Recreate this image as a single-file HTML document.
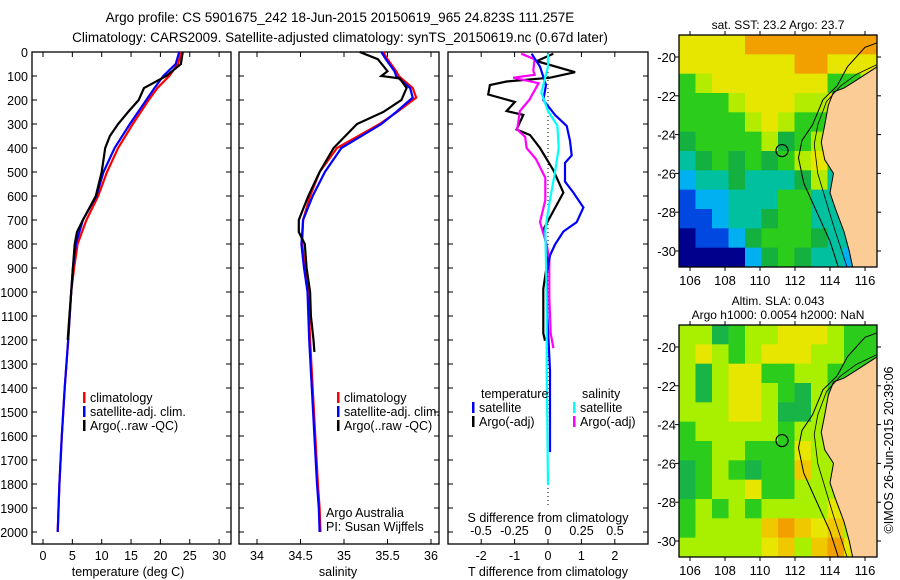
<!DOCTYPE html>
<html><head><meta charset="utf-8">
<style>
body{margin:0;background:#fff;}
svg{display:block;font-family:"Liberation Sans",sans-serif;}
text{fill:#000;}
</style></head>
<body>
<svg id="fig" width="900" height="580" viewBox="0 0 900 580">
<defs>
<clipPath id="c1"><rect x="679" y="35" width="198" height="232"/></clipPath>
<clipPath id="c2"><rect x="679" y="325" width="198" height="232"/></clipPath>
</defs>
<text x="340" y="22" font-size="13.5" text-anchor="middle">Argo profile: CS 5901675_242 18-Jun-2015 20150619_965 24.823S 111.257E</text>
<text x="340" y="42" font-size="13.5" text-anchor="middle">Climatology: CARS2009. Satellite-adjusted climatology: synTS_20150619.nc (0.67d later)</text>
<g id="p1"></g>
<g id="p2"></g>
<g id="p3"></g>
<g id="m1"></g>
<g id="m2"></g>
<text transform="translate(893,450) rotate(-90)" font-size="12.5" text-anchor="middle">©IMOS 26-Jun-2015 20:39:06</text>
</svg>
<script>
// ---- data ----
const depthTicks=[0,100,200,300,400,500,600,700,800,900,1000,1100,1200,1300,1400,1500,1600,1700,1800,1900,2000];
const tempTicks=[0,5,10,15,20,25,30];
const salTicks=[34,34.5,35,35.5,36];
const tdTicks=[-2,-1,0,1,2];
const sdTicks=[-0.5,-0.25,0,0.25,0.5];
const sdTickLabels=["-0.5","-0.25","0","0.25","0.5"];

const climDepth=[0,50,100,150,200,300,400,500,600,700,800,900,1000,1200,1400,1600,1800,2000];
const climT=[23.6,23.0,21.5,19.5,18.0,15.3,12.8,10.9,9.4,7.4,5.9,5.3,4.8,4.3,3.7,3.2,2.8,2.5];
const satT=[23.2,22.6,20.5,19.0,17.6,14.8,12.2,10.3,9.1,6.8,5.6,5.1,4.8,4.3,3.7,3.2,2.8,2.5];
const argoDepth=[0,50,100,150,200,250,300,350,400,500,600,700,750,800,900,1000,1100,1200];
const argoT=[23.8,23.5,21.0,17.2,16.3,14.5,12.8,11.4,10.6,10.0,9.0,6.8,5.8,5.4,5.1,4.8,4.5,4.2];

const salDepth=[0,30,80,100,110,150,190,250,300,400,500,600,700,800,900,1000,1200,1400,1600,1800,1900,2000];
const climS=[35.45,35.5,35.6,35.63,35.66,35.79,35.83,35.61,35.41,34.92,34.72,34.61,34.53,34.52,34.55,34.59,34.61,34.64,34.67,34.70,34.72,34.73];
const satS=[35.43,35.48,35.58,35.6,35.63,35.76,35.79,35.6,35.43,34.97,34.78,34.64,34.53,34.51,34.54,34.58,34.60,34.63,34.66,34.69,34.71,34.72];
const argoSDepth=[0,30,80,100,110,150,200,250,300,400,500,600,700,750,800,900,1000,1100,1200,1250];
const argoS=[35.18,35.39,35.5,35.43,35.64,35.72,35.66,35.45,35.15,34.88,34.72,34.59,34.48,34.48,34.55,34.57,34.61,34.62,34.65,34.66];

const dTsatDepth=[7,61,138,200,262,308,370,431,462,540,586,648,709,748,802,848,925,1095,1327,1667];
const dTsat=[-0.49,-0.24,-0.06,-0.14,0.21,0.56,0.66,0.71,0.51,0.51,0.76,1.06,0.86,0.46,0.21,0.06,-0.04,-0.02,0.06,0.06];
const dTargoDepth=[7,38,84,107,123,138,177,208,246,262,323,346,400,492,586,663,740,848,987,1172,1203];
const dTargo=[0.16,-0.34,0.81,0.06,-1.24,-1.74,-1.79,-0.99,-1.24,-0.74,-0.94,-0.54,-0.24,0.16,0.46,0.16,-0.14,0.01,-0.14,-0.14,-0.09];
const dSsatDepth=[7,61,169,246,308,400,508,632,740,1018,1327,1804];
const dSsat=[0.0,0.0,-0.05,0.0,0.07,0.08,0.05,0.01,-0.02,-0.01,-0.01,0.0];
const dSargoDepth=[7,30,77,95,107,130,200,246,323,354,400,446,524,617,709,802,864,1018,1172,1234];
const dSargo=[-0.2,-0.1,-0.11,-0.1,-0.26,-0.07,-0.14,-0.21,-0.23,-0.17,-0.16,-0.09,-0.02,-0.02,-0.06,-0.01,0.01,0.01,0.02,0.04];

const lonTicks=[106,108,110,112,114,116];
const latTicks=[-20,-22,-24,-26,-28,-30];
const sstGrid=["YYYYOOOOOOOO","YYYYYYYOOYYY","GLYYYYYYYGGL","GGGLYYYLLYGG","GGGGLYLGGLGG","gGGGGLgGLYGG","TgGgGgGLYGCB","CTTgTTTgLTTB","BCCTTTGGTTGT","BBCTTgGGTTTG","NBBCgGGGgTTG","NNNNCgGgTTCT"];
const slaGrid=["KKDGKKYYYKGG","KYKGKYYYKKGG","KDKYYGGKKGGG","KDKYYKGDKGGG","KKKYYKDDKGGG","GKKKKKGKKGGG","GGKKGGGYKKGG","DGKGDGGoKKKG","DGKKYGGKKKKG","GKGKGKKKKYKG","GKKKKoOoYoKG","KKKKKYoKoOYG"];
const coastLon=[116.7,115.5,114.8,114.2,113.9,113.7,113.5,113.7,114.2,114.0,114.3,114.8,115.1,115.3];
const coastLat=[-20.5,-21.2,-21.6,-21.8,-22.5,-23.5,-24.4,-25.3,-26.0,-27.0,-27.8,-29.0,-30.0,-30.85];
const isoLon=[116.9,116.0,115.0,114.4,113.6,113.0,112.4,112.2,112.5,113.0,113.5,114.0,114.5];
const isoLat=[-19.2,-19.5,-20.5,-21.5,-22.2,-23.5,-24.3,-25.2,-26.5,-27.5,-28.5,-29.5,-30.9];
const shelfLon=[116.9,115.5,114.6,113.8,113.3,113.1,113.3,113.8,114.2,114.6,115.0];
const shelfLat=[-20.3,-20.9,-21.5,-22.3,-23.5,-24.5,-26.0,-27.5,-28.7,-29.8,-30.9];
const argoLon=111.257, argoLat=-24.823;

// ---- helpers ----
const NS="http://www.w3.org/2000/svg";
function mk(parent,tag,attrs){const e=document.createElementNS(NS,tag);for(const k in attrs)e.setAttribute(k,attrs[k]);parent.appendChild(e);return e;}
const Y0=52, Y1=544, D2Y=0.24;
function yD(d){return Y0+d*D2Y;}

function frame(g,x0,x1){
  const r=mk(g,'rect',{x:x0,y:Y0,width:x1-x0,height:Y1-Y0,fill:'none',stroke:'#000','stroke-width':1.3});
  
  
  depthTicks.forEach(d=>{
    mk(g,'line',{x1:x0,x2:x0+5,y1:yD(d),y2:yD(d),stroke:'#000'});
    mk(g,'line',{x1:x1,x2:x1-5,y1:yD(d),y2:yD(d),stroke:'#000'});
  });
}
function xTicks(g,ticks,labels,fx,ly,top){
  ticks.forEach((v,i)=>{
    const x=fx(v);
    mk(g,'line',{x1:x,x2:x,y1:Y1,y2:Y1-5,stroke:'#000'});
    if(top) mk(g,'line',{x1:x,x2:x,y1:Y0,y2:Y0+5,stroke:'#000'});
    const t=mk(g,'text',{x:x,y:ly,'font-size':12.5,'text-anchor':'middle'});
    t.textContent=labels[i];
    
    
  });
}
function line(g,xs,ds,fx,color,name,w){
  const pts=xs.map((v,i)=>fx(v).toFixed(1)+','+yD(ds[i]).toFixed(1)).join(' ');
  const p=mk(g,'polyline',{points:pts,fill:'none',stroke:color,'stroke-width':w||2.2,'stroke-linejoin':'miter'});
  
  
}
function txt(g,x,y,s,name,size,anchor){
  const t=mk(g,'text',{x:x,y:y,'font-size':size||12.5,'text-anchor':anchor||'start'});
  t.textContent=s;
  
  
  return t;
}
function legend(g,x,y,entries){
  entries.forEach((e,i)=>{
    mk(g,'rect',{x:x,y:y+i*14-10,width:2.5,height:11,fill:e[1]});
    txt(g,x+7,y+i*14,e[0],'legend-entry');
  });
}

// ---- panel 1: temperature ----
const p1=document.getElementById('p1');
const fT=v=>43+v*5.87;
frame(p1,32,231);
depthTicks.forEach(d=>{txt(p1,28,yD(d)+5,String(d),'y-tick-label',12.5,'end');});
xTicks(p1,tempTicks,tempTicks.map(String),fT,560,true);
txt(p1,128,576,'temperature (deg C)','x-axis-title',12.5,'middle');
line(p1,climT,climDepth,fT,'#f00','climatology-temperature-line');
line(p1,satT,climDepth,fT,'#00f','satellite-temperature-line');
line(p1,argoT,argoDepth,fT,'#000','argo-temperature-line');
legend(p1,83,402,[['climatology','#f00'],['satellite-adj. clim.','#00f'],['Argo(..raw -QC)','#000']]);

// ---- panel 2: salinity ----
const p2=document.getElementById('p2');
const fS=v=>257+(v-34)*87;
frame(p2,239,439);
xTicks(p2,salTicks,salTicks.map(String),fS,560,true);
txt(p2,338,576,'salinity','x-axis-title',12.5,'middle');
line(p2,climS,salDepth,fS,'#f00','climatology-salinity-line');
line(p2,satS,salDepth,fS,'#00f','satellite-salinity-line');
line(p2,argoS,argoSDepth,fS,'#000','argo-salinity-line');
legend(p2,337,402,[['climatology','#f00'],['satellite-adj. clim.','#00f'],['Argo(..raw -QC)','#000']]);
txt(p2,326,517,'Argo Australia','credit-line',12.5);
txt(p2,326,531,'PI: Susan Wijffels','credit-line',12.5);

// ---- panel 3: differences ----
const p3=document.getElementById('p3');
const fdT=v=>548+v*33.4;
const fdS=v=>548+v*134;
frame(p3,448,648);
mk(p3,'line',{x1:548,x2:548,y1:Y0,y2:Y1-38,stroke:'#000','stroke-dasharray':'1,3'});
xTicks(p3,tdTicks,tdTicks.map(String),fdT,560,true);
sdTicks.forEach((v,i)=>{txt(p3,fdS(v),535,sdTickLabels[i],'s-tick-label',12.5,'middle');});
txt(p3,548,522,'S difference from climatology','s-axis-title',12.5,'middle');
txt(p3,548,576,'T difference from climatology','t-axis-title',12.5,'middle');
line(p3,dTargo,dTargoDepth,fdT,'#000','argo-t-diff-line');
line(p3,dSargo,dSargoDepth,fdS,'#f0f','argo-s-diff-line');
line(p3,dTsat,dTsatDepth,fdT,'#00f','satellite-t-diff-line');
line(p3,dSsat,dSsatDepth,fdS,'#0ff','satellite-s-diff-line');
txt(p3,481,398,'temperature','legend-heading',12.5);
txt(p3,582,398,'salinity','legend-heading',12.5);
legend(p3,472,412,[['satellite','#00f'],['Argo(-adj)','#000']]);
legend(p3,573,412,[['satellite','#0ff'],['Argo(-adj)','#f0f']]);

// ---- maps ----
const palette={O:'#f2a000',Y:'#e6e600',L:'#b4ec00',G:'#2ccc1c',g:'#14b040',T:'#00c0a0',C:'#00b0f0',B:'#0048e0',N:'#00008c',
  K:'#a8f000',D:'#18b448',o:'#f0c800'};
function drawMap(g,top,grid,titleLines,clip){
  const x0=679,x1=877,bot=top+232;
  const fx=lon=>690+(lon-106)*17.5;
  const fy=lat=>top+22+(-20-lat)*19.4;
  const cw=(x1-x0)/12,ch=(bot-top)/12;
  const inner=mk(g,'g',{'clip-path':'url(#'+clip+')'});
  grid.forEach((row,r)=>{[...row].forEach((c,k)=>{
    mk(inner,'rect',{x:x0+k*cw,y:top+r*ch,width:cw+0.5,height:ch+0.5,fill:palette[c]});
  });});
  const land=coastLon.map((v,i)=>fx(v)+','+fy(coastLat[i])).join(' ')+' '+x1+','+bot+' '+x1+','+fy(-20.5);
  const lp=mk(inner,'polygon',{points:land,fill:'#fccc96',stroke:'#000','stroke-width':1});
  
  
  const iso=isoLon.map((v,i)=>fx(v)+','+fy(isoLat[i])).join(' ');
  mk(inner,'polyline',{points:iso,fill:'none',stroke:'#000','stroke-width':1});
  const iso2=shelfLon.map((v,i)=>fx(v)+','+fy(shelfLat[i])).join(' ');
  mk(inner,'polyline',{points:iso2,fill:'none',stroke:'#000','stroke-width':0.8});
  const c=mk(g,'circle',{cx:fx(argoLon),cy:fy(argoLat),r:6,fill:'none',stroke:'#000','stroke-width':1.2});
  
  
  mk(g,'rect',{x:x0,y:top,width:x1-x0,height:bot-top,fill:'none',stroke:'#000','stroke-width':1.3});
  lonTicks.forEach(v=>{
    mk(g,'line',{x1:fx(v),x2:fx(v),y1:top,y2:top-4,stroke:'#000'});
    mk(g,'line',{x1:fx(v),x2:fx(v),y1:bot,y2:bot+4,stroke:'#000'});
    txt(g,fx(v),bot+18,String(v),'lon-tick-label',13,'middle');
  });
  latTicks.forEach(v=>{
    mk(g,'line',{x1:x0,x2:x0-4,y1:fy(v),y2:fy(v),stroke:'#000'});
    mk(g,'line',{x1:x1,x2:x1+4,y1:fy(v),y2:fy(v),stroke:'#000'});
    txt(g,x0-3,fy(v)+5,String(v),'lat-tick-label',13,'end');
  });
  titleLines.forEach((s,i)=>txt(g,778,top-(titleLines.length-1-i)*14-6,s,'map-title',12,'middle'));
}
drawMap(document.getElementById('m1'),35,sstGrid,['sat. SST: 23.2 Argo: 23.7'],'c1');
drawMap(document.getElementById('m2'),325,slaGrid,['Altim. SLA: 0.043','Argo h1000: 0.0054 h2000: NaN'],'c2');
</script>
</body></html>
